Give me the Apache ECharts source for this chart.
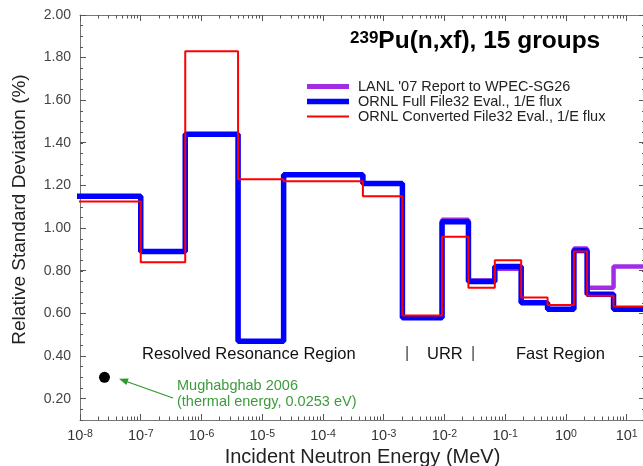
<!DOCTYPE html>
<html>
<head>
<meta charset="utf-8">
<script src="https://cdn.jsdelivr.net/npm/echarts@6/dist/echarts.min.js"></script>
<style>
html, body { margin: 0; padding: 0; background: #fff; }
#chart { width: 643px; height: 466px; }
</style>
</head>
<body>
<div id="chart"></div>
<script>
// 15-group boundaries (MeV), first group runs off the left of the plot
var groupBounds = [1e-11, 1e-7, 5.4e-7, 4e-6, 2.25e-5, 4.54e-4, 2.03e-3, 9.12e-3, 2.48e-2, 6.74e-2, 0.183, 0.498, 1.35, 2.23, 6.07, 20];

// relative std dev (%) per group
var lanlVals = [1.15, 0.89, 1.44, 0.47, 1.25, 1.21, 0.58, 1.04, 0.755, 0.81, 0.65, 0.62, 0.905, 0.72, 0.82];
var ornlFullVals = [1.15, 0.89, 1.44, 0.47, 1.25, 1.21, 0.58, 1.03, 0.75, 0.82, 0.65, 0.62, 0.895, 0.69, 0.62];
var ornlConvVals = [1.125, 0.84, 1.83, 1.23, 1.22, 1.15, 0.59, 0.96, 0.72, 0.85, 0.675, 0.64, 0.89, 0.683, 0.632];

// Mughabghab 2006 thermal point
var thermalE = [2.53e-8];
var thermalVal = [0.30];

var seriesNames = ["LANL '07 Report to WPEC-SG26", 'ORNL Full File32 Eval., 1/E flux', 'ORNL Converted File32 Eval., 1/E flux'];
var seriesColors = ['#a22ce6', '#0000ff', '#ff0000'];

var xDecades = [-8, -7, -6, -5, -4, -3, -2, -1, 0, 1];
var yTickLabels = [0.2, 0.4, 0.6, 0.8, 1.0, 1.2, 1.4, 1.6, 1.8, 2.0];

var X_MAX_E = 20, Y_MIN = 0.1, Y_MAX = 2.0;
var FONT = 'Liberation Sans, Arial, sans-serif';

function lg(v) { return Math.log(v) / Math.LN10; }

function steps(vals) {
    var d = [];
    for (var i = 0; i < vals.length; i++) d.push([lg(groupBounds[i]), vals[i]]);
    d.push([lg(groupBounds[vals.length]), vals[vals.length - 1]]);
    return d;
}

// minor ticks of the log axis (2..9 x 10^n)
var xMinor = [];
xDecades.forEach(function (n) {
    for (var k = 2; k <= 9; k++) {
        var e = k * Math.pow(10, n);
        if (e <= X_MAX_E) xMinor.push([lg(e), Y_MIN]);
    }
});
var yMajor = yTickLabels.map(function (v) { return [-8, v]; });

function crisp(v) { return Math.round(v - 0.5) + 0.5; }

var chart = echarts.init(document.getElementById('chart'));

var axisLineStyle = { color: '#777', width: 1 };

var option = {
    animation: false,
    textStyle: { fontFamily: FONT },
    grid: { left: 80, top: 15, right: -2, bottom: 46, outerBoundsMode: 'none', containLabel: false },
    title: {
        text: '{sup|239}{main|Pu(n,xf), 15 groups}',
        left: 350, top: 30, padding: 0,
        textStyle: {
            rich: {
                sup: { fontSize: 17, lineHeight: 17, fontWeight: 'bold', verticalAlign: 'top', color: '#000', fontFamily: FONT },
                main: { fontSize: 24.5, lineHeight: 24, fontWeight: 'bold', verticalAlign: 'bottom', padding: [5, 0, 0, 0], color: '#000', fontFamily: FONT }
            }
        }
    },
    legend: [0, 1, 2].map(function (i) {
        return {
            data: [{ name: seriesNames[i], icon: 'rect' }],
            left: 307, top: 79 + i * 15, padding: 0,
            itemWidth: 42, itemHeight: [5, 5.5, 2][i],
            selectedMode: false,
            textStyle: { fontSize: 14.5, lineHeight: 14, color: '#222', fontFamily: FONT, padding: [0, 0, 0, 4] }
        };
    }),
    xAxis: [{
        type: 'value', min: -8, max: lg(X_MAX_E), interval: 1,
        name: 'Incident Neutron Energy (MeV)', nameLocation: 'middle', nameGap: 27,
        nameTextStyle: { fontSize: 20, color: '#222', fontFamily: FONT },
        axisLine: { show: true, onZero: false, lineStyle: axisLineStyle },
        axisTick: { inside: true, length: 6, lineStyle: { color: '#555' } },
        splitLine: { show: false },
        axisLabel: {
            margin: 9, showMaxLabel: false,
            formatter: function (v) {
                var n = Math.round(v);
                if (Math.abs(v - n) > 1e-6 || xDecades.indexOf(n) < 0) return '';
                return '{b|10}{s|' + n + '}';
            },
            rich: {
                b: { fontSize: 14.5, lineHeight: 14, verticalAlign: 'bottom', padding: [4, 0, 0, 0], color: '#333', fontFamily: FONT },
                s: { fontSize: 10.5, lineHeight: 10, verticalAlign: 'top', color: '#333', fontFamily: FONT }
            }
        }
    }, {
        type: 'value', position: 'top', min: -8, max: lg(X_MAX_E), interval: 1,
        axisLine: { show: true, onZero: false, lineStyle: axisLineStyle },
        axisTick: { inside: true, length: 6, lineStyle: { color: '#555' } },
        axisLabel: { show: false }, splitLine: { show: false }
    }],
    yAxis: [{
        type: 'value', min: Y_MIN, max: Y_MAX, interval: 0.05,
        name: 'Relative Standard Deviation (%)', nameLocation: 'middle', nameGap: 51,
        nameTextStyle: { fontSize: 19, color: '#222', fontFamily: FONT, padding: [0, 0, 0, 16] },
        axisLine: { show: true, onZero: false, lineStyle: axisLineStyle },
        axisTick: { inside: true, length: 3, lineStyle: { color: '#555' } },
        splitLine: { show: false },
        axisLabel: {
            margin: 9, fontSize: 14, color: '#444',
            formatter: function (v) {
                var c = Math.round(v * 100);
                for (var i = 0; i < yTickLabels.length; i++) {
                    if (Math.round(yTickLabels[i] * 100) === c) return yTickLabels[i].toFixed(2);
                }
                return '';
            }
        }
    }, {
        type: 'value', position: 'right', min: Y_MIN, max: Y_MAX, interval: 0.05,
        axisLine: { show: true, onZero: false, lineStyle: axisLineStyle },
        axisTick: { inside: true, length: 3, lineStyle: { color: '#555' } },
        axisLabel: { show: false }, splitLine: { show: false }
    }],
    series: [{
        name: seriesNames[0], type: 'line', step: 'end', showSymbol: false, symbol: 'none',
        data: steps(lanlVals), color: seriesColors[0],
        lineStyle: { width: 4.5, color: seriesColors[0] }
    }, {
        name: seriesNames[1], type: 'line', step: 'end', showSymbol: false, symbol: 'none',
        data: steps(ornlFullVals), color: seriesColors[1],
        lineStyle: { width: 5.5, color: seriesColors[1] }
    }, {
        name: seriesNames[2], type: 'line', step: 'end', showSymbol: false, symbol: 'none',
        data: steps(ornlConvVals), color: seriesColors[2],
        lineStyle: { width: 2, color: seriesColors[2] }
    }, {
        name: 'Mughabghab 2006', type: 'scatter', symbolSize: 11,
        itemStyle: { color: '#000', opacity: 1 },
        data: thermalE.map(function (e, i) { return [lg(e), thermalVal[i]]; })
    }, {
        // minor log ticks, bottom and top
        type: 'custom', silent: true, clip: false, data: xMinor,
        renderItem: function (params, api) {
            var x = api.value(0);
            var b = api.coord([x, Y_MIN]), t = api.coord([x, Y_MAX]);
            var px = crisp(b[0]);
            var st = { stroke: '#555', lineWidth: 1 };
            return { type: 'group', children: [
                { type: 'line', shape: { x1: px, y1: b[1], x2: px, y2: b[1] - 3.5 }, style: st },
                { type: 'line', shape: { x1: px, y1: t[1], x2: px, y2: t[1] + 3.5 }, style: st }
            ] };
        }
    }, {
        // longer ticks at the labelled y values, left and right
        type: 'custom', silent: true, clip: false, data: yMajor,
        renderItem: function (params, api) {
            var y = api.value(1);
            var l = api.coord([-8, y]), r = api.coord([lg(X_MAX_E), y]);
            var py = crisp(l[1]);
            var st = { stroke: '#555', lineWidth: 1 };
            return { type: 'group', children: [
                { type: 'line', shape: { x1: l[0], y1: py, x2: l[0] + 6, y2: py }, style: st },
                { type: 'line', shape: { x1: r[0], y1: py, x2: r[0] - 6, y2: py }, style: st }
            ] };
        }
    }],
    graphic: [
        { type: 'text', left: 142, top: 346, style: { text: 'Resolved Resonance Region', fontSize: 16.5, fill: '#111', fontFamily: FONT } },
        { type: 'text', left: 405, top: 346, style: { text: '|', fontSize: 16, fill: '#444', fontFamily: FONT } },
        { type: 'text', left: 427, top: 346, style: { text: 'URR', fontSize: 16.5, fill: '#111', fontFamily: FONT } },
        { type: 'text', left: 471, top: 346, style: { text: '|', fontSize: 16, fill: '#444', fontFamily: FONT } },
        { type: 'text', left: 516, top: 346, style: { text: 'Fast Region', fontSize: 16.5, fill: '#111', fontFamily: FONT } },
        { type: 'text', left: 177, top: 378, style: { text: 'Mughabghab 2006', fontSize: 14.5, fill: '#3c9b3c', fontFamily: FONT } },
        { type: 'text', left: 177, top: 394, style: { text: '(thermal energy, 0.0253 eV)', fontSize: 14.5, fill: '#3c9b3c', fontFamily: FONT } },
        { type: 'polyline', shape: { points: [[173, 398], [125, 381]] }, style: { stroke: '#2e9a2e', lineWidth: 1.3 } },
        { type: 'polygon', shape: { points: [[119, 378.7], [128.7, 378.4], [126.3, 385]] }, style: { fill: '#2e9a2e' } }
    ]
};

chart.setOption(option);
</script>
</body>
</html>
